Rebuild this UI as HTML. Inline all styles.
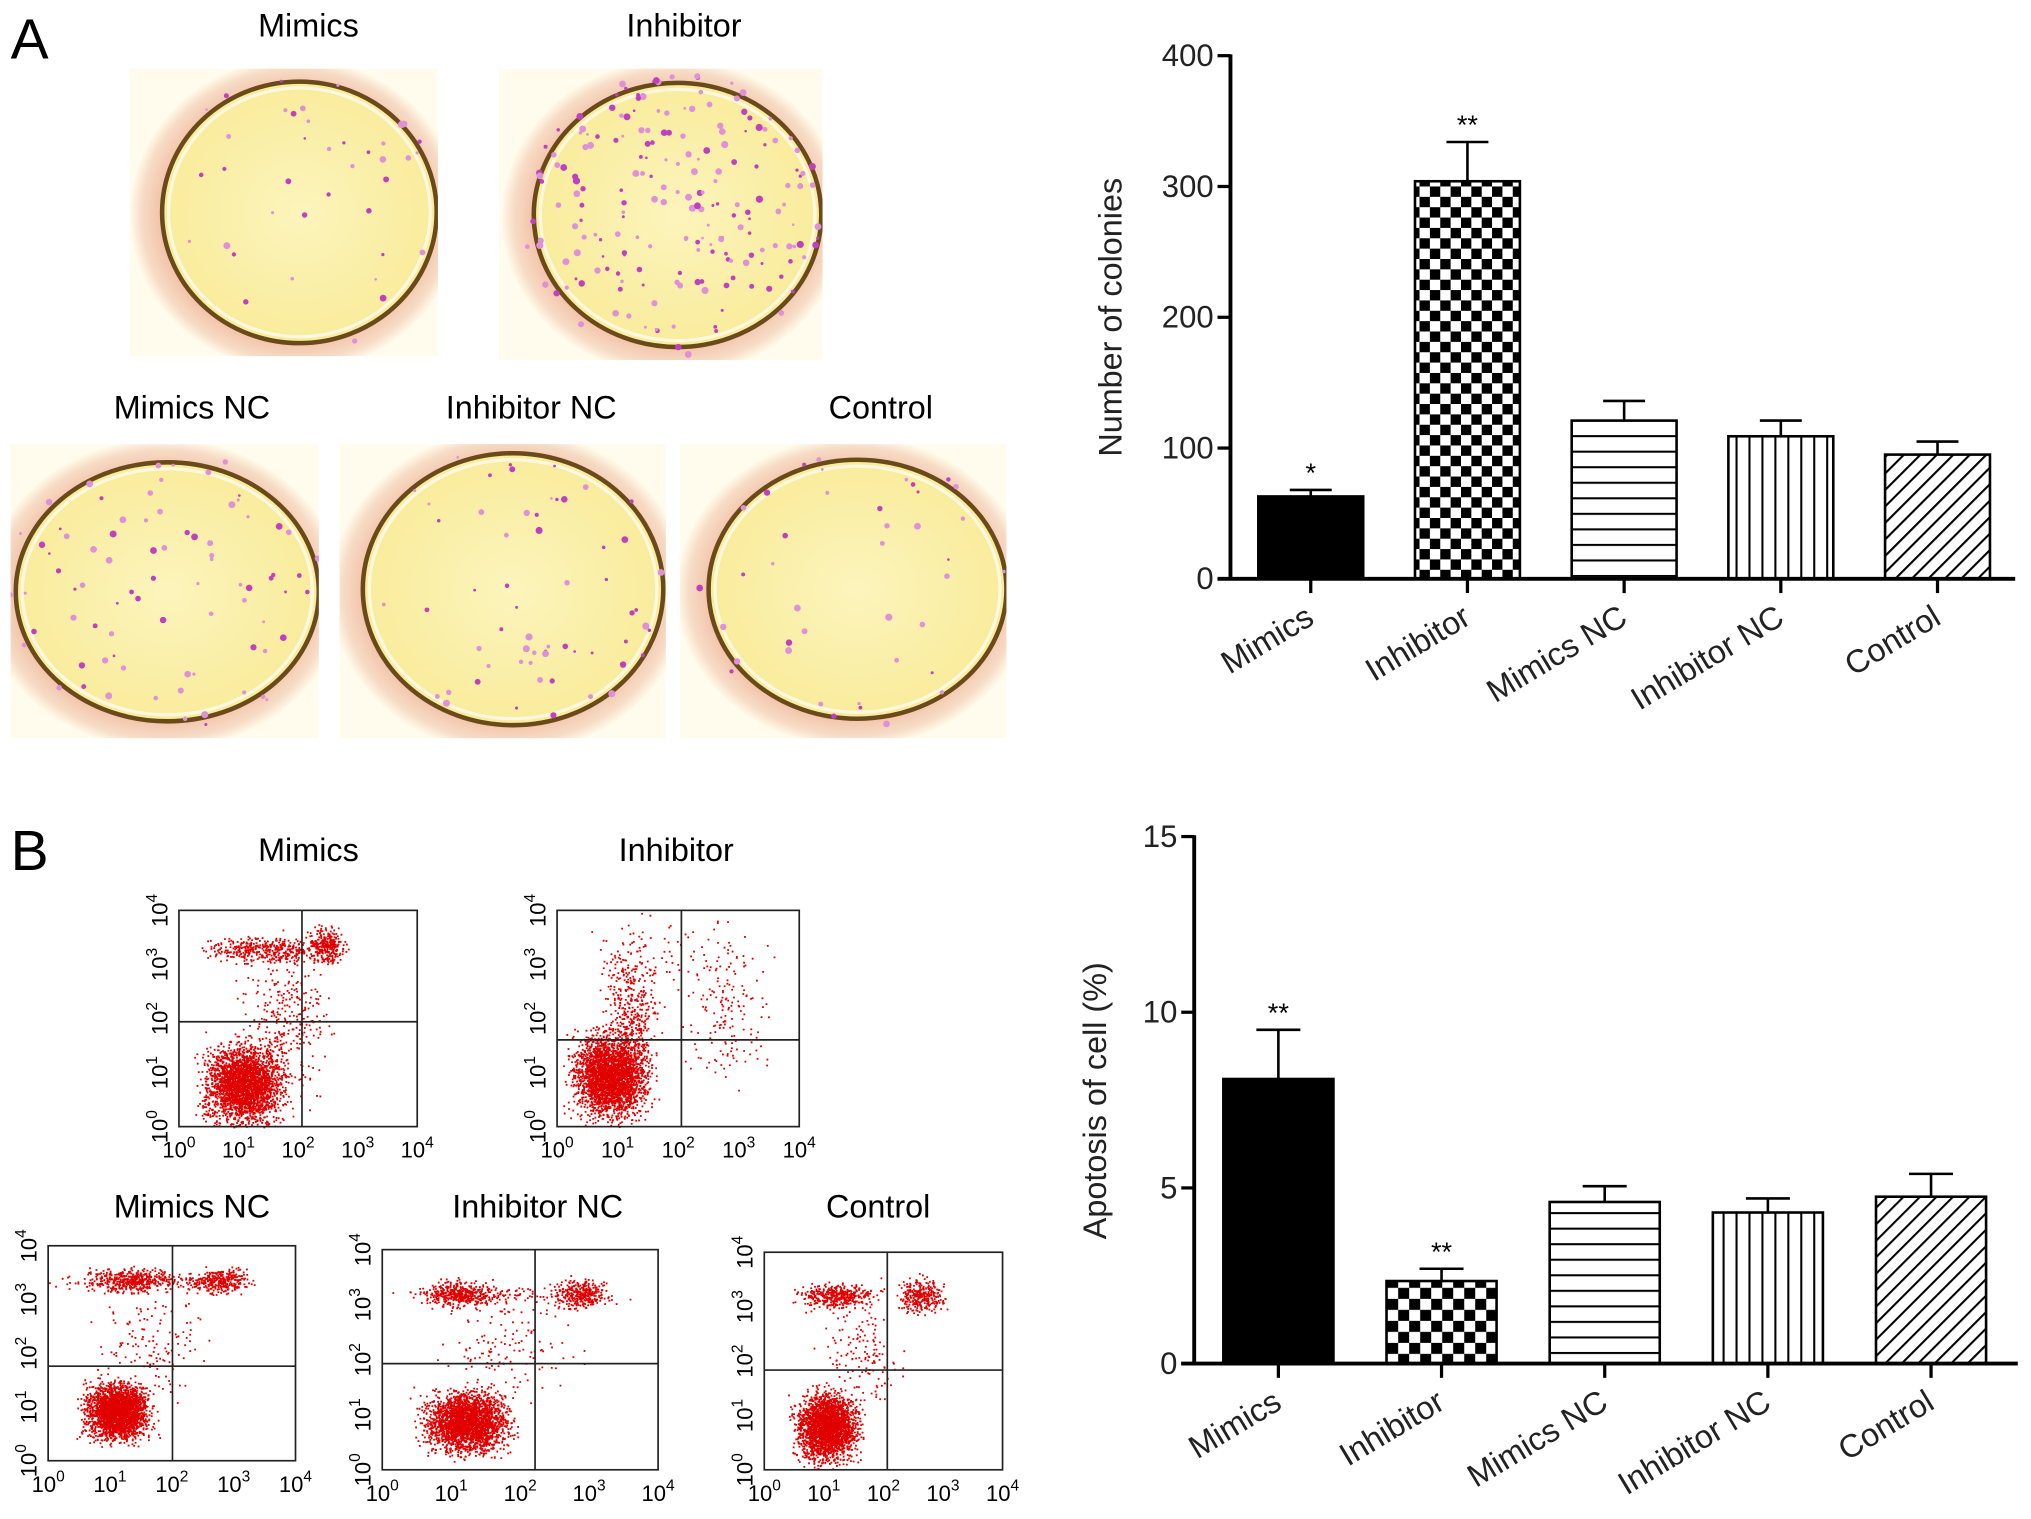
<!DOCTYPE html>
<html><head><meta charset="utf-8"><style>
html,body{margin:0;padding:0;background:#fff;}
svg{display:block;font-family:"Liberation Sans",Arial,sans-serif;}
</style></head><body>
<svg id="fig" width="2031" height="1519" viewBox="0 0 1568 1173" xmlns="http://www.w3.org/2000/svg">
<defs>
<pattern id="chk1" width="16" height="16" patternUnits="userSpaceOnUse"><rect width="16" height="16" fill="#fff"/><rect width="8" height="8" fill="#000"/><rect x="8" y="8" width="8" height="8" fill="#000"/></pattern>
<pattern id="chk2" width="17" height="17" patternUnits="userSpaceOnUse"><rect width="17" height="17" fill="#fff"/><rect width="8.5" height="8.5" fill="#000"/><rect x="8.5" y="8.5" width="8.5" height="8.5" fill="#000"/></pattern>
<pattern id="hor" width="10" height="12" patternUnits="userSpaceOnUse"><rect width="10" height="12" fill="#fff"/><rect y="0" width="10" height="1.6" fill="#000"/></pattern>
<pattern id="ver" width="10" height="10" patternUnits="userSpaceOnUse"><rect width="10" height="10" fill="#fff"/><rect x="0" width="1.6" height="10" fill="#000"/></pattern>
<pattern id="diag" width="9" height="9" patternUnits="userSpaceOnUse" patternTransform="rotate(45)"><rect width="9" height="9" fill="#fff"/><rect x="0" width="1.6" height="9" fill="#000"/></pattern>
<radialGradient id="plate" cx="50%" cy="50%" r="50%"><stop offset="0.8" stop-color="#f2c0a6"/><stop offset="0.93" stop-color="#f7dcc6"/><stop offset="1" stop-color="#fffbea"/></radialGradient>
<radialGradient id="inner" cx="50%" cy="50%" r="50%"><stop offset="0" stop-color="#fcf4bc"/><stop offset="1" stop-color="#f9ec9c"/></radialGradient>
</defs>
<text x="8" y="45" font-size="44">A</text>
<text x="8" y="672" font-size="44">B</text>
<g id="dishes"></g>
<g id="flows"></g>
<g id="chartA"></g>
<g id="chartB"></g>
</svg>
<script>
// ---- Chart A data ----
const catsA = ["Mimics","Inhibitor","Mimics NC","Inhibitor NC","Control"];
const valsA = [63, 304, 121, 109, 95];
const errsA = [5, 30, 15, 12, 10];
const starsA = ["*","**","","",""];
const ticksA = [0,100,200,300,400];
// ---- Chart B data ----
const catsB = ["Mimics","Inhibitor","Mimics NC","Inhibitor NC","Control"];
const valsB = [8.1, 2.35, 4.6, 4.3, 4.75];
const errsB = [1.4, 0.35, 0.45, 0.4, 0.65];
const starsB = ["**","**","","",""];
const ticksB = [0,5,10,15];
const fills = ["#000","CHK","url(#hor)","url(#ver)","url(#diag)"];

const NS="http://www.w3.org/2000/svg";
function mk(tag,attrs,parent){const e=document.createElementNS(NS,tag);for(const k in attrs)e.setAttribute(k,attrs[k]);parent.appendChild(e);return e;}

function barChart(gid,cfg,cats,vals,errs,stars,ticks){
  const g=document.getElementById(gid);
  const y=v=>cfg.y0-(v-ticks[0])/(ticks[ticks.length-1]-ticks[0])*(cfg.y0-cfg.ytop);
  const x=i=>cfg.c0+i*cfg.step;
  for(let i=0;i<cats.length;i++){
    const f=fills[i]==="CHK"?cfg.chk:fills[i];
    const top=y(vals[i]);
    const eb=mk('line',{x1:x(i),x2:x(i),y1:top,y2:y(vals[i]+errs[i]),stroke:'#000','stroke-width':2},g);
    
    const cap=mk('line',{x1:x(i)-cfg.bw*0.2,x2:x(i)+cfg.bw*0.2,y1:y(vals[i]+errs[i]),y2:y(vals[i]+errs[i]),stroke:'#000','stroke-width':2},g);
    
    const r=mk('rect',{x:x(i)-cfg.bw/2,y:top,width:cfg.bw,height:cfg.y0-top,fill:f,stroke:'#000','stroke-width':2},g);
    
    
    if(stars[i]){const s=mk('text',{x:x(i),y:y(vals[i]+errs[i])-6,'font-size':21,'text-anchor':'middle'},g);s.textContent=stars[i];
      }
    mk('line',{x1:x(i),x2:x(i),y1:cfg.y0,y2:cfg.y0+11,stroke:'#000','stroke-width':2.5},g);
    const t=mk('text',{x:0,y:0,'font-size':25,'text-anchor':'end',fill:'#222',transform:`translate(${x(i)+4},${cfg.y0+34}) rotate(-31)`},g);
    t.textContent=cats[i];
  }
  const ya=mk('line',{x1:cfg.ax,x2:cfg.ax,y1:cfg.ytop-1,y2:cfg.y0+1,stroke:'#000','stroke-width':3},g);
  
  const xa=mk('line',{x1:cfg.ax-10,x2:cfg.xend,y1:cfg.y0,y2:cfg.y0,stroke:'#000','stroke-width':3},g);
  
  ticks.forEach(v=>{mk('line',{x1:cfg.ax-10,x2:cfg.ax,y1:y(v),y2:y(v),stroke:'#000','stroke-width':2.5},g);
    const t=mk('text',{x:cfg.ax-13,y:y(v)+8,'font-size':24,'text-anchor':'end',fill:'#222'},g);t.textContent=v;
    });
  const tt=mk('text',{x:0,y:0,'font-size':25,'text-anchor':'middle',fill:'#222',transform:`translate(${cfg.tx},${cfg.ty}) rotate(-90)`},g);
  tt.textContent=cfg.title;
}
barChart('chartA',{ax:950,y0:447,ytop:43,c0:1012,step:121,bw:81,xend:1556,chk:'url(#chk1)',tx:866,ty:245,title:'Number of colonies'},catsA,valsA,errsA,starsA,ticksA);
barChart('chartB',{ax:922,y0:1053,ytop:646,c0:987,step:126,bw:85,xend:1558,chk:'url(#chk2)',tx:854,ty:850,title:'Apotosis of cell (%)'},catsB,valsB,errsB,starsB,ticksB);

let seed=7;function rnd(){seed=(seed*16807)%2147483647;return seed/2147483647;}
function gauss(){return (rnd()+rnd()+rnd()-1.5)/1.5;}

// ---- Petri dishes ----
const dishes=[
 {name:'Mimics',bx:100,by:53,bw:238,bh:222,cx:231,cy:164,rx:106,ry:101,lx:238,ly:28,dots:40},
 {name:'Inhibitor',bx:385,by:53,bw:250,bh:225,cx:523,cy:166,rx:111,ry:102,lx:528,ly:28,dots:200},
 {name:'Mimics NC',bx:8,by:343,bw:238,bh:227,cx:129,cy:457,rx:117,ry:100,lx:148,ly:323,dots:80},
 {name:'Inhibitor NC',bx:262,by:343,bw:252,bh:227,cx:396,cy:455,rx:116,ry:105,lx:410,ly:323,dots:60},
 {name:'Control',bx:525,by:343,bw:252,bh:227,cx:662,cy:455,rx:115,ry:100,lx:680,ly:323,dots:40}];
const dg=document.getElementById('dishes');
const defs=document.querySelector('defs');
dishes.forEach((d,i)=>{
  const cp=mk('clipPath',{id:'clip'+i},defs);mk('rect',{x:d.bx,y:d.by,width:d.bw,height:d.bh},cp);
  const g=mk('g',{'clip-path':`url(#clip${i})`},dg);
  mk('rect',{x:d.bx,y:d.by,width:d.bw,height:d.bh,fill:'#fffcee'},g);
  mk('ellipse',{cx:d.cx-3,cy:d.cy+2,rx:d.rx+22,ry:d.ry+20,fill:'url(#plate)'},g);
  mk('ellipse',{cx:d.cx,cy:d.cy,rx:d.rx,ry:d.ry,fill:'url(#inner)',stroke:'#6b4a1a','stroke-width':3.5},g);
  mk('ellipse',{cx:d.cx,cy:d.cy,rx:d.rx-5,ry:d.ry-5,fill:'none',stroke:'#fff8e0','stroke-width':2.5},g);
  for(let k=0;k<d.dots;k++){const a=rnd()*6.283, rr=Math.sqrt(rnd())*1.08;
    mk('circle',{cx:d.cx+Math.cos(a)*rr*d.rx,cy:d.cy+Math.sin(a)*rr*d.ry,r:1+rnd()*1.8,fill:rnd()<0.5?'#c040c0':'#e090d8'},g);}
  const t=mk('text',{x:d.lx,y:d.ly,'font-size':25,'text-anchor':'middle'},dg);t.textContent=d.name;
  
});

// ---- Flow cytometry plots ----
const flows=[
 {name:'Mimics',x0:138,y0:703,x1:322,y1:870,qv:233,qh:789,lx:238,ly:665,cl:[[0.27,0.2,0.14,0.16,2600],[0.36,0.82,0.22,0.05,400],[0.62,0.84,0.06,0.07,300],[0.45,0.5,0.16,0.3,300]]},
 {name:'Inhibitor',x0:430,y0:703,x1:617,y1:870,qv:526,qh:803,lx:522,ly:665,cl:[[0.22,0.24,0.13,0.17,2800],[0.3,0.55,0.1,0.3,400],[0.7,0.55,0.15,0.3,150],[0.5,0.8,0.3,0.15,80]]},
 {name:'Mimics NC',x0:37,y0:962,x1:228,y1:1128,qv:133,qh:1055,lx:148,ly:940,cl:[[0.28,0.23,0.11,0.11,2500],[0.33,0.84,0.13,0.05,400],[0.7,0.84,0.1,0.05,300],[0.4,0.55,0.2,0.25,150],[0.4,0.84,0.35,0.03,150]]},
 {name:'Inhibitor NC',x0:295,y0:965,x1:508,y1:1135,qv:413,qh:1053,lx:415,ly:940,cl:[[0.3,0.22,0.13,0.12,2500],[0.28,0.8,0.11,0.05,400],[0.72,0.8,0.09,0.06,320],[0.45,0.55,0.2,0.25,150],[0.4,0.8,0.35,0.03,120]]},
 {name:'Control',x0:590,y0:967,x1:774,y1:1135,qv:685,qh:1058,lx:678,ly:940,cl:[[0.26,0.2,0.11,0.13,2500],[0.3,0.8,0.14,0.05,400],[0.66,0.8,0.08,0.07,300],[0.4,0.55,0.15,0.25,150]]}];
const fg=document.getElementById('flows');
flows.forEach(f=>{
  const g=mk('g',{},fg);
  const W=f.x1-f.x0,H=f.y1-f.y0;
  let d='';
  f.cl.forEach(c=>{for(let k=0;k<c[4];k++){const px=f.x0+(c[0]+gauss()*c[2]*1.6)*W, py=f.y1-(c[1]+gauss()*c[3]*1.6)*H;
    if(px>f.x0&&px<f.x1&&py>f.y0&&py<f.y1)d+=`M${px.toFixed(1)} ${py.toFixed(1)}h1.4v1.4h-1.4z`;}});
  mk('path',{d:d,fill:'#e00000'},g);
  mk('rect',{x:f.x0,y:f.y0,width:W,height:H,fill:'none',stroke:'#222','stroke-width':1.3},g);
  mk('line',{x1:f.qv,x2:f.qv,y1:f.y0,y2:f.y1,stroke:'#222','stroke-width':1.3},g);
  mk('line',{x1:f.x0,x2:f.x1,y1:f.qh,y2:f.qh,stroke:'#222','stroke-width':1.3},g);
  for(let k=0;k<=4;k++){const tx=f.x0+k*W/4, ty=f.y1-k*H/4;
    const a=mk('text',{x:tx,y:f.y1+24,'font-size':17,'text-anchor':'middle'},g);a.innerHTML=`10<tspan font-size="12" dy="-8">${k}</tspan>`;
    
    const b=mk('text',{x:0,y:0,'font-size':17,'text-anchor':'middle',transform:`translate(${f.x0-9},${ty}) rotate(-90)`},g);b.innerHTML=`10<tspan font-size="12" dy="-8">${k}</tspan>`;
    }
  const t=mk('text',{x:f.lx,y:f.ly,'font-size':25,'text-anchor':'middle'},g);t.textContent=f.name;
  
});
</script>
</body></html>
